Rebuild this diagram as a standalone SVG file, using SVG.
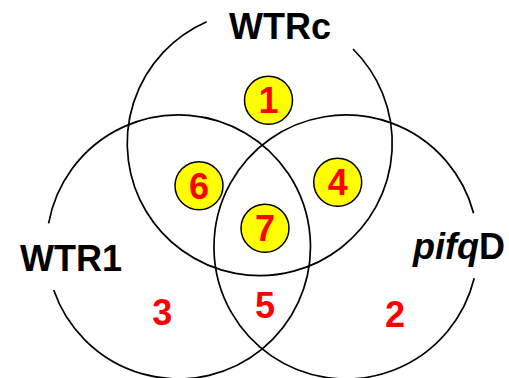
<svg xmlns="http://www.w3.org/2000/svg" width="509" height="378" viewBox="0 0 509 378">
<style>
.set{fill:none;stroke:#000;stroke-width:1.7}
.lbl{font-family:"Liberation Sans",Arial,sans-serif;font-weight:bold;font-size:36px;fill:#000}
.num{font-family:"Liberation Sans",Arial,sans-serif;font-weight:bold;font-size:36px;fill:#FF0000;text-anchor:middle}
.dot{fill:#FFFF00;stroke:#000;stroke-width:1.5}
</style>
<rect width="509" height="378" fill="#fff"/>
<g id="set-WTRc">
<path class="set" d="M206.7 21.7 A132.5 132.5 0 1 0 353 49"/>
<text class="lbl" x="280" y="39" text-anchor="middle">WTRc</text>
</g>
<g id="set-WTR1">
<path class="set" d="M48.6 223.3 A132 132 0 1 1 53.7 290"/>
<text class="lbl" x="71" y="271" text-anchor="middle">WTR1</text>
</g>
<g id="set-pifqD">
<path class="set" d="M473.6 213.3 A132 132 0 1 0 474.2 278.3"/>
<text class="lbl" x="413" y="259" font-size="37.5"><tspan font-style="italic">pifq</tspan>D</text>
</g>
<g id="region-1"><circle class="dot" cx="268.5" cy="100.2" r="24"/><text class="num" x="268.5" y="113.2">1</text></g>
<g id="region-6"><circle class="dot" cx="199" cy="185.7" r="24"/><text class="num" x="199" y="198.7">6</text></g>
<g id="region-4"><circle class="dot" cx="337.7" cy="182.3" r="24"/><text class="num" x="337.7" y="195.3">4</text></g>
<g id="region-7"><circle class="dot" cx="265" cy="228.3" r="24"/><text class="num" x="265" y="241.3">7</text></g>
<g id="region-3"><text class="num" x="162.3" y="325">3</text></g>
<g id="region-5"><text class="num" x="265" y="318.3">5</text></g>
<g id="region-2"><text class="num" x="395" y="326.7">2</text></g>
</svg>
